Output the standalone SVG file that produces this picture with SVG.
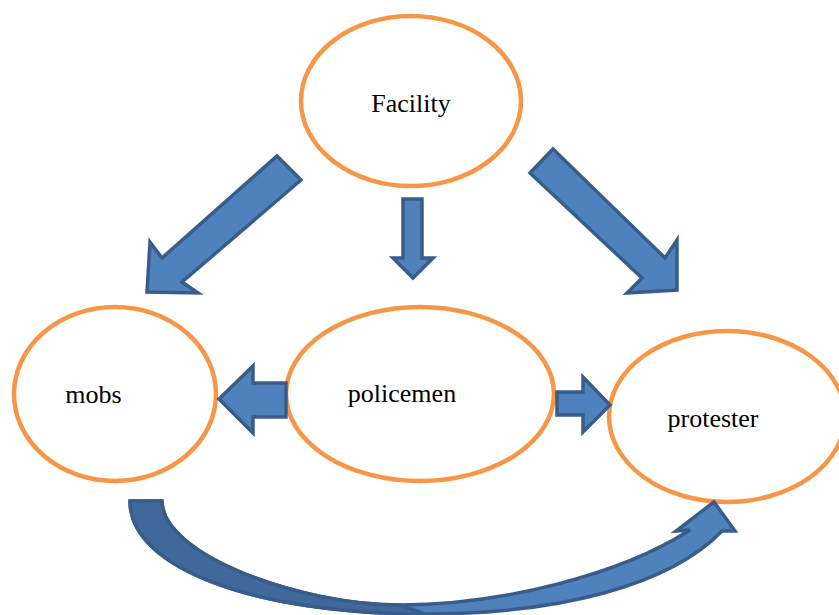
<svg xmlns="http://www.w3.org/2000/svg" width="839" height="615" viewBox="0 0 839 615">
<style>
.node{fill:#FFFFFF;stroke:#F79646;stroke-width:4.5}
.lbl{font-family:"Liberation Serif","Times New Roman",serif;font-size:26px;fill:#000000;text-anchor:middle}
.arr{fill:#4F81BD;stroke:#385D8A;stroke-width:3.5;stroke-linejoin:miter}
.dark{fill:#41689B;stroke:#385D8A;stroke-width:3.5;stroke-linejoin:round}
</style>
<rect width="839" height="615" fill="#FFFFFF"/>
<g id="facility">
<ellipse class="node" cx="411" cy="101" rx="110" ry="85"/>
<text class="lbl" x="411" y="112">Facility</text>
</g>
<g id="mobs">
<ellipse class="node" cx="115" cy="394" rx="101" ry="87"/>
<text class="lbl" x="93.5" y="403">mobs</text>
</g>
<g id="policemen">
<ellipse class="node" cx="420" cy="394" rx="134" ry="87"/>
<text class="lbl" x="402" y="402">policemen</text>
</g>
<g id="protester">
<ellipse class="node" cx="727" cy="416.5" rx="118" ry="85.5"/>
<text class="lbl" x="713" y="427">protester</text>
</g>
<g id="connectors">
<polygon class="arr" points="277,156 301,180 182,282 198,293 147,292 150,242 162,258"/>
<polygon class="arr" points="403,199 422,199 422,258 433,258 413,278 393,258 403,258"/>
<polygon class="arr" points="553,149 665,258 677,240 677,290 627,293 642,278 530,173"/>
<polygon class="arr" points="286,383 253,383 253,366 219,399 253,433 253,417 286,417"/>
<polygon class="arr" points="557,392 583,392 583,377 610,405 583,432 583,415 557,415"/>
<path class="arr" stroke-linejoin="round" d="M130,501 C130,570 260,614 425,614 C560,614 670,585 722,531 L735,531 L714,502 L676,531 L690,530 C620,575 500,605 400,605 C300,605 162,555 162,501 Z"/>
<path class="dark" d="M130,501 L162,501 C162,555 300,605 400,605 L425,614 C260,614 130,570 130,501 Z"/>
</g>
</svg>
